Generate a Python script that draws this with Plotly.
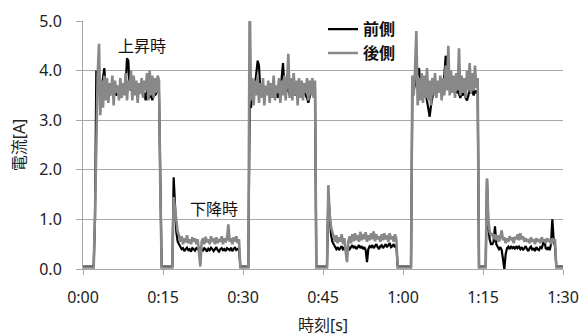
import plotly.graph_objects as go

# Current samples every 0.25 s from 0:00 to 1:30.
# ---- 前側 (front, black) ----
front_idle0 = [0.05, 0.05, 0.05, 0.05, 0.05, 0.05, 0.05, 0.05, 0.05, 1.0]
front_up1 = [4.0, 3.7, 3.6, 3.5, 3.65, 3.9, 4.05, 3.6, 3.55, 3.7, 3.5, 3.6, 3.65, 3.55, 3.6, 3.5,
             3.55, 3.6, 3.5, 3.65, 3.55, 3.6, 3.7, 4.25, 4.2, 3.65, 3.6, 3.7, 3.55, 3.6, 3.65, 3.5,
             3.6, 3.55, 3.65, 3.5, 3.55, 3.4, 3.6, 3.5, 3.45, 3.55, 3.4, 3.6, 3.5, 3.55, 3.6, 3.55]
front_idle1 = [1.5, 0.05, 0.05, 0.05, 0.05, 0.05, 0.05, 0.05, 0.05, 0.05]
front_down1 = [1.85, 1.1, 0.75, 0.55,
               0.5, 0.45, 0.4, 0.42, 0.36, 0.4, 0.43, 0.38, 0.4, 0.35, 0.42, 0.4, 0.37, 0.42, 0.4, 0.38,
               0.44, 0.4, 0.36, 0.42, 0.4, 0.35, 0.41, 0.38, 0.43, 0.4, 0.36, 0.4, 0.44, 0.38, 0.35, 0.4,
               0.42, 0.38, 0.4, 0.36, 0.42, 0.4, 0.38, 0.43, 0.36, 0.4, 0.44, 0.38, 0.4, 0.42]
front_idle2 = [0.05, 0.05, 0.05, 0.05, 0.05, 0.05, 0.05]
front_up2 = [3.3, 3.25, 3.6, 3.55, 3.7, 3.9, 4.2, 4.1, 3.6, 3.55, 3.65, 3.5, 3.6, 3.55, 3.65, 3.5,
             3.6, 3.55, 3.7, 3.5, 3.6, 3.45, 3.6, 3.55, 3.9, 4.15, 3.7, 3.55, 3.6, 3.65, 3.5, 3.6,
             3.55, 3.65, 3.5, 3.6, 3.55, 3.6, 3.5, 3.65, 3.55, 3.6, 3.5, 3.45, 3.35, 3.5, 3.6, 3.55,
             3.6, 3.65]
front_idle3 = [0.05, 0.05, 0.05, 0.05, 0.05, 0.05, 0.05, 0.05, 0.05]
front_down2 = [1.5, 0.95, 0.7, 0.55,
               0.5, 0.45, 0.4, 0.44, 0.38, 0.42, 0.46, 0.4, 0.43, 0.38, 0.4, 0.45, 0.4, 0.44, 0.48, 0.42,
               0.46, 0.4, 0.44, 0.48, 0.42, 0.46, 0.4, 0.44, 0.38, 0.14, 0.4, 0.46, 0.44, 0.48, 0.42, 0.46,
               0.5, 0.44, 0.4, 0.46, 0.48, 0.42, 0.46, 0.5, 0.44, 0.48, 0.52, 0.44, 0.46, 0.5, 0.44, 0.48]
front_idle4 = [0.05, 0.05, 0.05, 0.05, 0.05, 0.05, 0.05, 0.05, 0.05, 0.05, 0.05]
front_up3 = [3.5, 3.6, 3.7, 3.8, 3.9, 4.05, 3.75, 3.7, 3.6, 3.75, 3.55, 3.4, 3.2, 3.07, 3.3, 3.5,
             3.6, 3.7, 3.65, 3.75, 3.7, 3.8, 3.75, 3.7, 3.9, 4.3, 4.1, 3.8, 3.75, 3.7, 3.8, 3.75,
             3.6, 3.55, 3.6, 3.5, 3.45, 3.55, 3.5, 3.6, 3.45, 3.4, 3.5, 3.6, 3.55, 3.6, 3.5, 3.6,
             3.55, 3.6]
front_idle5 = [0.05, 0.05, 0.05, 0.05, 0.05, 0.05]
front_down3 = [1.82, 0.85, 0.6, 0.5,
               0.5, 0.55, 0.86, 0.5, 0.45, 0.4, 0.44, 0.38, 0.2, 0.0, 0.3, 0.42, 0.45, 0.4, 0.46, 0.42,
               0.44, 0.4, 0.46, 0.42, 0.45, 0.4, 0.44, 0.38, 0.42, 0.46, 0.4, 0.36, 0.42, 0.45, 0.38, 0.42,
               0.36, 0.44, 0.4, 0.38, 0.44, 0.42, 0.5, 0.6, 0.42, 0.4, 0.44, 0.38, 0.5, 1.0, 0.6, 0.45]
front_idle6 = [0.05, 0.05, 0.05, 0.05, 0.05, 0.05]

# ---- 後側 (rear, grey) ----
rear_idle0 = [0.03, 0.03, 0.03, 0.03, 0.03, 0.03, 0.03, 0.03, 0.03, 1.1]
rear_up1 = [3.0, 3.9, 4.54, 3.1, 3.8, 3.25, 3.9, 3.4, 3.85, 3.35, 3.75, 3.5, 3.9, 3.3, 3.8, 3.55,
            3.7, 3.4, 3.85, 3.45, 3.75, 3.5, 3.95, 3.4, 3.8, 3.6, 4.0, 3.4, 3.9, 3.5, 3.8, 3.35,
            3.75, 3.55, 3.85, 3.45, 3.8, 3.6, 3.95, 3.4, 4.0, 3.5, 3.9, 3.45, 3.85, 3.55, 3.9, 3.8]
rear_idle1 = [1.6, 0.03, 0.03, 0.03, 0.03, 0.03, 0.03, 0.03, 0.03, 0.03]
rear_down1 = [1.45, 1.2, 0.9, 0.75,
              0.68, 0.55, 0.66, 0.5, 0.62, 0.54, 0.68, 0.52, 0.6, 0.5, 0.64, 0.55, 0.62, 0.5, 0.6, 0.3,
              0.05, 0.55, 0.62, 0.5, 0.65, 0.54, 0.6, 0.5, 0.66, 0.55, 0.62, 0.5, 0.64, 0.52, 0.6, 0.55,
              0.66, 0.5, 0.62, 0.54, 0.6, 0.9, 0.55, 0.62, 0.5, 0.64, 0.55, 0.66, 0.52, 0.6]
rear_idle2 = [0.03, 0.03, 0.03, 0.03, 0.03, 0.03, 0.03]
rear_up2 = [5.6, 3.4, 3.85, 3.3, 3.8, 3.5, 3.9, 3.35, 3.75, 3.45, 3.85, 3.3, 3.7, 3.5, 3.8, 3.35,
            3.75, 3.45, 3.9, 3.4, 3.7, 3.55, 3.85, 3.35, 3.8, 3.5, 3.9, 3.4, 3.75, 4.34, 3.45, 3.85,
            3.4, 3.95, 3.5, 3.8, 3.3, 3.85, 3.45, 3.8, 3.4, 3.75, 3.55, 3.85, 3.4, 3.8, 3.5, 3.85,
            3.45, 3.8]
rear_idle3 = [0.03, 0.03, 0.03, 0.03, 0.03, 0.03, 0.03, 0.03, 0.03]
rear_down2 = [1.69, 1.1, 0.85, 0.72,
              0.65, 0.55, 0.68, 0.52, 0.64, 0.55, 0.7, 0.5, 0.62, 0.35, 0.14, 0.55, 0.66, 0.52, 0.7, 0.56,
              0.72, 0.58, 0.68, 0.55, 0.75, 0.58, 0.7, 0.6, 0.74, 0.55, 0.68, 0.58, 0.72, 0.6, 0.76, 0.56,
              0.7, 0.6, 0.66, 0.55, 0.7, 0.58, 0.72, 0.6, 0.68, 0.55, 0.72, 0.6, 0.66, 0.55, 0.7, 0.6]
rear_idle4 = [0.03, 0.03, 0.03, 0.03, 0.03, 0.03, 0.03, 0.03, 0.03, 0.03, 0.03]
rear_up3 = [3.9, 3.5, 4.0, 4.8, 3.3, 3.85, 3.4, 3.95, 3.35, 3.9, 3.45, 4.05, 3.4, 3.8, 3.3, 3.85,
            3.5, 3.95, 3.45, 3.8, 3.55, 3.9, 3.4, 3.85, 3.5, 4.1, 3.6, 4.5, 3.5, 4.0, 3.55, 3.9,
            3.45, 3.95, 3.6, 4.45, 3.5, 3.9, 3.55, 3.85, 3.45, 4.0, 3.6, 4.15, 3.55, 3.95, 3.6, 4.1,
            3.65, 3.85]
rear_idle5 = [0.03, 0.03, 0.03, 0.03, 0.03, 0.03]
rear_down3 = [1.82, 1.0, 0.75, 0.68,
              0.72, 0.6, 0.7, 0.58, 0.68, 0.55, 0.65, 0.78, 0.58, 0.64, 0.52, 0.62, 0.55, 0.66, 0.58, 0.64,
              0.52, 0.65, 0.6, 0.7, 0.58, 0.72, 0.6, 0.66, 0.55, 0.62, 0.55, 0.6, 0.52, 0.64, 0.55, 0.6,
              0.5, 0.62, 0.55, 0.6, 0.52, 0.64, 0.56, 0.6, 0.52, 0.62, 0.55, 0.6, 0.5, 0.62, 0.55, 0.6]
rear_idle6 = [0.03, 0.03, 0.03, 0.03, 0.03, 0.03]

front = (front_idle0 + front_up1 + front_idle1 + front_down1 + front_idle2 + front_up2 +
         front_idle3 + front_down2 + front_idle4 + front_up3 + front_idle5 + front_down3 + front_idle6)
rear = (rear_idle0 + rear_up1 + rear_idle1 + rear_down1 + rear_idle2 + rear_up2 +
        rear_idle3 + rear_down2 + rear_idle4 + rear_up3 + rear_idle5 + rear_down3 + rear_idle6)
SAMPLE_STEP_S = 0.25
time_s = [i * SAMPLE_STEP_S for i in range(len(front))]
time_r = [i * SAMPLE_STEP_S for i in range(len(rear))]

tick_vals = [0, 15, 30, 45, 60, 75, 90]
tick_text = ["0:00", "0:15", "0:30", "0:45", "1:00", "1:15", "1:30"]
series_names = ["前側", "後側"]
labels = ["上昇時", "下降時"]

FONT = "Noto Sans, Noto Sans CJK JP, sans-serif"
GRID = "#a8a8a8"

fig = go.Figure()
fig.add_trace(go.Scatter(x=time_s, y=front, mode="lines", name=series_names[0],
                         line=dict(color="#000000", width=2.2)))
fig.add_trace(go.Scatter(x=time_r, y=rear, mode="lines", name=series_names[1],
                         line=dict(color="#888888", width=2.6)))

fig.add_annotation(x=11.0, y=4.49, text=labels[0], showarrow=False,
                   font=dict(size=16, color="#111"))
fig.add_annotation(x=24.6, y=1.21, text=labels[1], showarrow=False,
                   font=dict(size=16, color="#111"))

fig.update_layout(
    width=584, height=336,
    margin=dict(l=83, r=21, t=13, b=67),
    paper_bgcolor="white", plot_bgcolor="white",
    font=dict(family=FONT, size=16, color="#222"),
    showlegend=True,
    legend=dict(x=0.50, y=1.035, xanchor="left", yanchor="top",
                bgcolor="rgba(0,0,0,0)", borderwidth=0,
                font=dict(size=16, color="#111", weight="bold"),
                tracegroupgap=0, itemwidth=30),
    xaxis=dict(range=[0, 90], tickvals=tick_vals, ticktext=tick_text, automargin=False,
               showgrid=False, showline=True, linecolor=GRID, linewidth=1,
               ticks="outside", ticklen=5, tickcolor=GRID,
               ticklabelstandoff=9, zeroline=False,
               title=dict(text="時刻[s]", standoff=15, font=dict(size=16))),
    yaxis=dict(range=[0, 5], dtick=1, tickformat=".1f", automargin=False,
               showgrid=True, gridcolor=GRID, gridwidth=1,
               showline=True, linecolor=GRID, linewidth=1,
               ticks="outside", ticklen=6, tickcolor=GRID,
               ticklabelstandoff=11, zeroline=False,
               title=dict(text="電流[A]", standoff=9, font=dict(size=16))),
)

fig.write_html("out.html", config={"displayModeBar": False},
               post_script="document.body.style.margin='0';")
